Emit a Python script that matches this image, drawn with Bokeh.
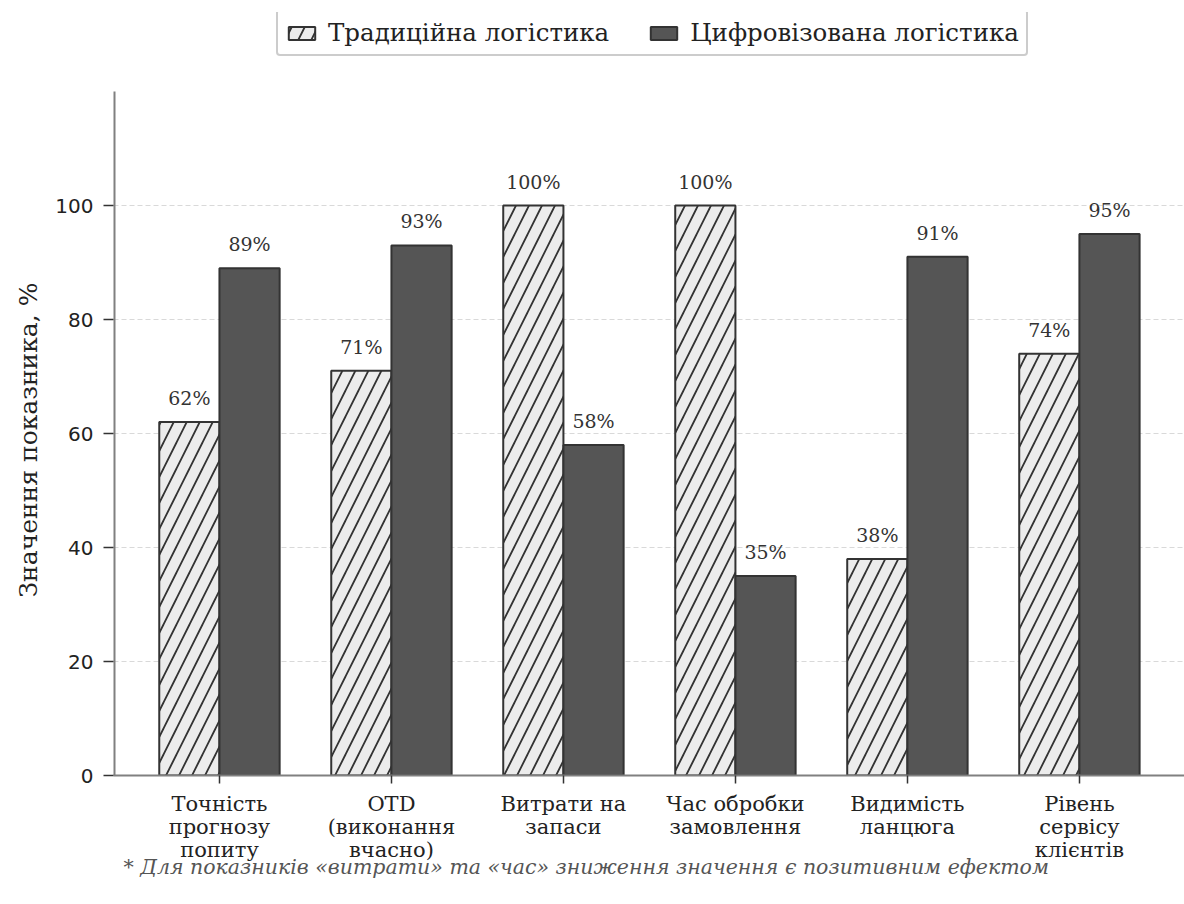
from bokeh.plotting import figure
from bokeh.models import ColumnDataSource, FixedTicker, Legend, LegendItem, Range1d, Title, LabelSet
from bokeh.core.properties import value
from bokeh.transform import dodge
from bokeh.embed import file_html
from bokeh.resources import INLINE

categories = ["Точність\nпрогнозу\nпопиту", "OTD\n(виконання\nвчасно)", "Витрати на\nзапаси",
              "Час обробки\nзамовлення", "Видимість\nланцюга", "Рівень\nсервісу\nклієнтів"]
traditional = [62, 71, 100, 100, 38, 74]
digital = [89, 93, 58, 35, 91, 95]
y_ticks = [0, 20, 40, 60, 80, 100]
y_max = 120
series_names = ["Традиційна логістика", "Цифровізована логістика"]
footnote = "* Для показників «витрати» та «час» зниження значення є позитивним ефектом"
y_label = "Значення показника, %"

SERIF = "DejaVu Serif"
SANS = "DejaVu Sans"

xs = list(range(len(categories)))
src = ColumnDataSource(dict(
    x=xs, trad=traditional, dig=digital,
    trad_lbl=[f"{v}%" for v in traditional],
    dig_lbl=[f"{v}%" for v in digital],
))

# frame extends above the axes area to host the legend
AX_H = 684            # pixel height of the 0..y_max axes area
FW, FH = 1071, 763
y_top = y_max * FH / AX_H
X0, X1 = -0.616, 5.611

p = figure(frame_width=FW, frame_height=FH, output_backend="svg", toolbar_location=None,
           x_range=Range1d(X0, X1), y_range=Range1d(0, y_top),
           min_border_left=113, min_border_right=0, min_border_top=12, min_border_bottom=129)
p.outline_line_color = None
p.background_fill_color = "white"
p.border_fill_color = "white"

p.xgrid.visible = False
p.ygrid.ticker = FixedTicker(ticks=y_ticks)
p.ygrid.grid_line_color = "#d9d9d9"
p.ygrid.grid_line_dash = "5 3"
p.ygrid.grid_line_width = 1

# left spine only up to y_max
p.segment(x0=[X0], y0=[0], x1=[X0], y1=[y_max], line_color="#808080", line_width=4)

r1 = p.vbar(x=dodge("x", -0.175, range=p.x_range), top="trad", width=0.35, source=src,
            fill_color="#ececec", line_color="#333333", line_width=2,
            hatch_pattern="/", hatch_color="#333333", hatch_weight=1.8, hatch_scale=26)
r2 = p.vbar(x=dodge("x", 0.175, range=p.x_range), top="dig", width=0.35, source=src,
            fill_color="#555555", line_color="#333333", line_width=2)

for col, lbl, off in (("trad", "trad_lbl", -0.175), ("dig", "dig_lbl", 0.175)):
    ls = LabelSet(x=dodge("x", off, range=p.x_range), y=col, text=lbl, source=src,
                  text_align="center", text_baseline="bottom", y_offset=13,
                  text_font=value(SERIF), text_font_size=value("19px"), text_color="#333333")
    p.add_layout(ls)

# axes
p.xaxis.ticker = FixedTicker(ticks=xs)
p.xaxis.major_label_overrides = {i: c for i, c in enumerate(categories)}
p.xaxis.major_label_text_font = SERIF
p.xaxis.major_label_text_font_size = "21px"
p.xaxis.major_label_text_color = "#222222"
p.xaxis.major_label_text_line_height = 0.97
p.xaxis.major_label_standoff = 8
p.xaxis.minor_tick_line_color = None
p.xaxis.major_tick_in = 0
p.xaxis.major_tick_out = 8
p.xaxis.major_tick_line_color = "#333333"
p.xaxis.major_tick_line_width = 1.5
p.xaxis.axis_line_color = "#808080"
p.xaxis.axis_line_width = 2

p.yaxis.ticker = FixedTicker(ticks=y_ticks)
p.yaxis.major_label_text_font = SANS
p.yaxis.major_label_text_font_size = "20px"
p.yaxis.major_label_text_color = "#222222"
p.yaxis.major_label_standoff = 10
p.yaxis.minor_tick_line_color = None
p.yaxis.major_tick_in = 0
p.yaxis.major_tick_out = 10
p.yaxis.major_tick_line_color = "#333333"
p.yaxis.major_tick_line_width = 1.5
p.yaxis.axis_line_color = None

# y-axis title, placed along the 0..y_max part of the frame
ylab = Title(text=y_label, align="left", text_font=SERIF, text_font_size="25px",
             text_font_style="normal", text_color="#222222", text_line_height=1.0,
             offset=178, standoff=20)
p.add_layout(ylab, "left")

legend = Legend(items=[LegendItem(label=series_names[0], renderers=[r1]),
                       LegendItem(label=series_names[1], renderers=[r2])],
                orientation="horizontal", location=(163, FH - 44),
                label_text_font=SERIF, label_text_font_size="24.5px", label_text_color="#222222",
                glyph_width=33, glyph_height=16, spacing=38, padding=7, margin=0,
                border_line_color="#999999", border_line_width=2, border_radius=4,
                label_standoff=10)
p.add_layout(legend)

fn = Title(text=footnote, align="left", text_font=SERIF, text_font_size="20.5px",
           text_font_style="italic", text_color="#555555", offset=10, standoff=-27)
p.add_layout(fn, "below")

open("out.html", "w").write(file_html(p, INLINE))
